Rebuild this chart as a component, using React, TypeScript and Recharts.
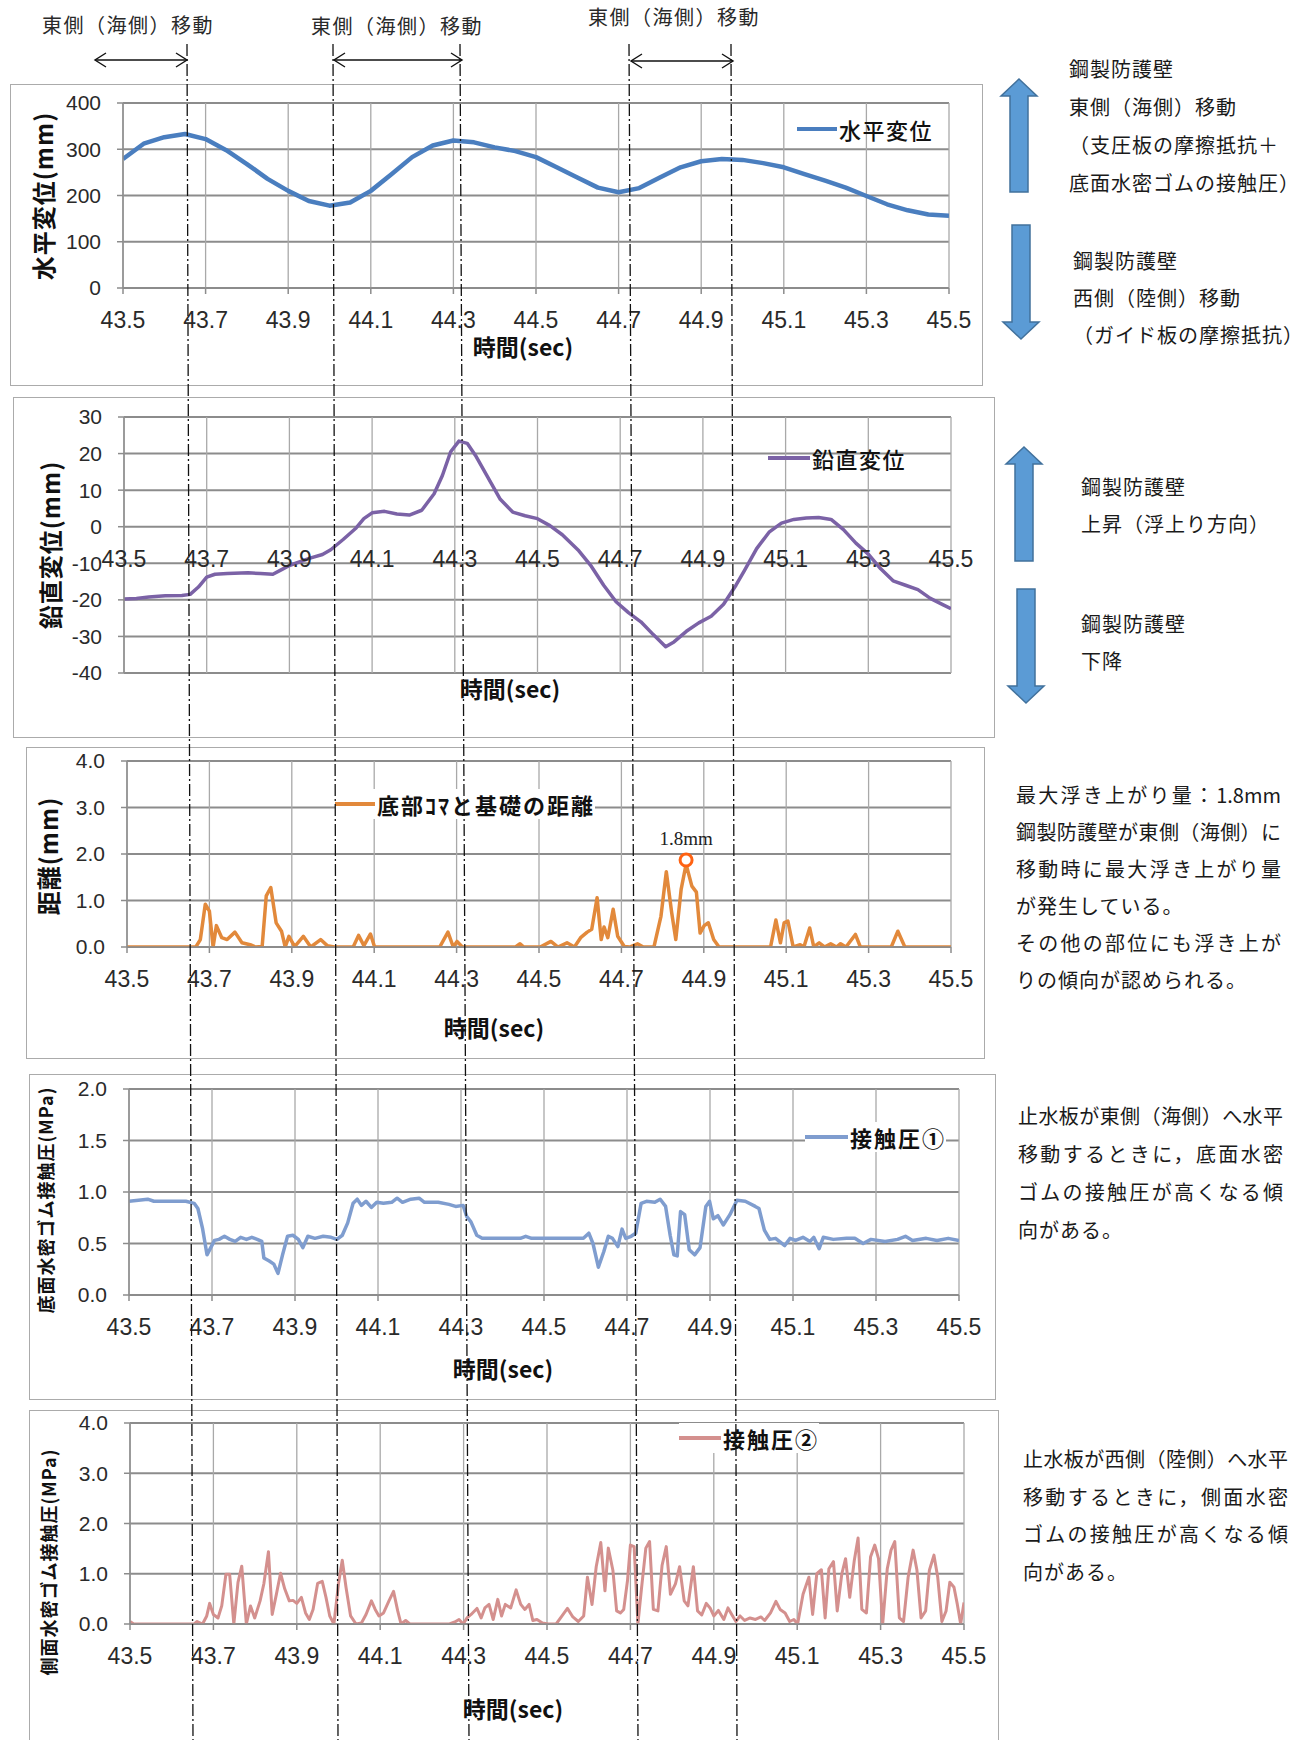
import React from 'react';
import { LineChart, Line, XAxis, YAxis, CartesianGrid, Legend, ReferenceDot } from 'recharts';

// ---------- data ----------
const X_TICKS = [43.5, 43.7, 43.9, 44.1, 44.3, 44.5, 44.7, 44.9, 45.1, 45.3, 45.5];

const horizTime = [43.5, 43.55, 43.6, 43.65, 43.7, 43.75, 43.8, 43.85, 43.9, 43.95, 44.0, 44.05, 44.1, 44.15, 44.2, 44.25, 44.3, 44.35, 44.4, 44.45, 44.5, 44.55, 44.6, 44.65, 44.7, 44.75, 44.8, 44.85, 44.9, 44.95, 45.0, 45.05, 45.1, 45.15, 45.2, 45.25, 45.3, 45.35, 45.4, 45.45, 45.5];
const horizValue = [279, 312, 326, 333, 322, 298, 268, 236, 210, 188, 178, 185, 210, 246, 283, 308, 319, 315, 304, 296, 283, 261, 239, 217, 207, 216, 239, 261, 274, 279, 277, 270, 261, 246, 232, 217, 199, 181, 168, 159, 156];

const vertTime = [43.5, 43.53, 43.56, 43.6, 43.64, 43.66, 43.68, 43.7, 43.72, 43.75, 43.8, 43.83, 43.86, 43.88, 43.9, 43.95, 43.98, 44.0, 44.03, 44.06, 44.08, 44.1, 44.13, 44.16, 44.19, 44.22, 44.25, 44.27, 44.29, 44.31, 44.33, 44.35, 44.38, 44.41, 44.44, 44.47, 44.5, 44.53, 44.56, 44.6, 44.63, 44.66, 44.69, 44.72, 44.75, 44.78, 44.81, 44.83, 44.86, 44.89, 44.92, 44.95, 44.98, 45.0, 45.03, 45.06, 45.09, 45.12, 45.15, 45.18, 45.21, 45.24, 45.27, 45.3, 45.33, 45.36, 45.39, 45.42, 45.45, 45.48, 45.5];
const vertValue = [-19.8, -19.6, -19.2, -18.9, -18.8, -18.5, -16.5, -13.8, -13.0, -12.8, -12.6, -12.8, -13.0, -11.8, -10.6, -8.6, -7.6, -6.3, -3.5, -0.5, 2.2, 3.8, 4.2, 3.5, 3.2, 4.5, 9, 14, 20.5, 23.4, 22.8, 19.5, 13.5, 7.5, 4, 3, 2.2, 0.3, -2.2, -6.6, -10.8, -16, -20.5, -23.5, -26, -29.5, -32.8, -31.5, -28.6, -26.3, -24.5, -21.2, -16, -12.1, -6, -1.5, 1, 2, 2.4, 2.5, 2, -0.8, -4.5, -7.5, -11.5, -14.8, -16, -17.2, -19.6, -21.3, -22.4];

const gapTime = [43.5, 43.667, 43.678, 43.69, 43.7, 43.709, 43.717, 43.73, 43.743, 43.762, 43.779, 43.799, 43.812, 43.828, 43.838, 43.849, 43.862, 43.875, 43.884, 43.893, 43.907, 43.928, 43.946, 43.97, 43.986, 44.003, 44.049, 44.062, 44.075, 44.091, 44.101, 44.259, 44.279, 44.292, 44.301, 44.314, 44.443, 44.454, 44.463, 44.503, 44.529, 44.546, 44.568, 44.586, 44.601, 44.617, 44.628, 44.641, 44.651, 44.658, 44.667, 44.68, 44.691, 44.707, 44.72, 44.739, 44.753, 44.779, 44.796, 44.809, 44.822, 44.832, 44.845, 44.857, 44.871, 44.882, 44.891, 44.901, 44.911, 44.924, 44.937, 45.062, 45.075, 45.086, 45.095, 45.104, 45.117, 45.134, 45.143, 45.157, 45.167, 45.18, 45.193, 45.208, 45.222, 45.232, 45.245, 45.268, 45.28, 45.355, 45.371, 45.388, 45.5];
const gapValue = [0, 0, 0.16, 0.92, 0.77, 0, 0.46, 0.2, 0.16, 0.32, 0.09, 0.05, 0, 0.01, 1.1, 1.28, 0.52, 0.34, 0, 0.23, 0.01, 0.23, 0, 0.16, 0.03, 0, 0, 0.25, 0.03, 0.28, 0, 0, 0.32, 0, 0.12, 0, 0, 0.07, 0, 0, 0.12, 0, 0.09, 0, 0.2, 0.32, 0.38, 1.06, 0.16, 0.43, 0.2, 0.81, 0.23, 0.01, 0, 0.07, 0, 0, 0.66, 1.62, 0.74, 0.16, 1.24, 1.78, 1.31, 1.18, 0.3, 0.46, 0.52, 0.16, 0, 0, 0.58, 0.09, 0.52, 0.56, 0, 0.05, 0, 0.41, 0, 0.09, 0, 0.07, 0, 0.07, 0, 0.27, 0, 0, 0.34, 0, 0];
const gapMaxTime = 44.857;
const gapMaxMarker = 1.87;

const bottomTime = [43.5, 43.545, 43.56, 43.637, 43.657, 43.666, 43.677, 43.688, 43.697, 43.706, 43.717, 43.73, 43.743, 43.756, 43.769, 43.783, 43.796, 43.809, 43.82, 43.825, 43.838, 43.849, 43.859, 43.87, 43.882, 43.895, 43.908, 43.919, 43.931, 43.948, 43.968, 43.987, 44.001, 44.014, 44.027, 44.04, 44.05, 44.06, 44.071, 44.084, 44.097, 44.113, 44.133, 44.146, 44.159, 44.179, 44.199, 44.212, 44.245, 44.271, 44.287, 44.305, 44.314, 44.324, 44.338, 44.351, 44.443, 44.456, 44.47, 44.595, 44.608, 44.618, 44.631, 44.644, 44.655, 44.665, 44.678, 44.688, 44.697, 44.71, 44.721, 44.734, 44.747, 44.767, 44.78, 44.793, 44.804, 44.813, 44.821, 44.829, 44.839, 44.85, 44.863, 44.876, 44.89, 44.899, 44.908, 44.919, 44.932, 44.948, 44.965, 44.985, 45.009, 45.018, 45.031, 45.044, 45.058, 45.08, 45.093, 45.106, 45.124, 45.141, 45.15, 45.163, 45.173, 45.197, 45.229, 45.249, 45.269, 45.288, 45.322, 45.352, 45.371, 45.388, 45.421, 45.447, 45.474, 45.5];
const bottomValue = [0.91, 0.93, 0.91, 0.91, 0.89, 0.84, 0.65, 0.39, 0.46, 0.53, 0.54, 0.57, 0.54, 0.52, 0.56, 0.54, 0.56, 0.54, 0.52, 0.36, 0.33, 0.3, 0.21, 0.39, 0.57, 0.58, 0.54, 0.46, 0.57, 0.55, 0.57, 0.56, 0.54, 0.58, 0.7, 0.89, 0.93, 0.87, 0.91, 0.85, 0.9, 0.89, 0.9, 0.94, 0.9, 0.93, 0.94, 0.9, 0.9, 0.88, 0.86, 0.87, 0.76, 0.71, 0.58, 0.55, 0.55, 0.57, 0.55, 0.55, 0.6, 0.5, 0.27, 0.42, 0.57, 0.55, 0.47, 0.64, 0.55, 0.57, 0.6, 0.89, 0.91, 0.9, 0.93, 0.86, 0.58, 0.39, 0.38, 0.81, 0.78, 0.44, 0.39, 0.46, 0.86, 0.91, 0.74, 0.77, 0.68, 0.78, 0.92, 0.91, 0.86, 0.84, 0.63, 0.54, 0.55, 0.48, 0.55, 0.53, 0.56, 0.52, 0.56, 0.45, 0.56, 0.54, 0.55, 0.55, 0.5, 0.54, 0.52, 0.54, 0.57, 0.53, 0.55, 0.53, 0.55, 0.53];

const sideTime = [43.5, 43.509, 43.654, 43.661, 43.674, 43.684, 43.691, 43.7, 43.711, 43.72, 43.73, 43.739, 43.749, 43.759, 43.768, 43.779, 43.789, 43.799, 43.812, 43.821, 43.832, 43.841, 43.851, 43.861, 43.871, 43.882, 43.891, 43.9, 43.911, 43.921, 43.93, 43.939, 43.95, 43.961, 43.97, 43.979, 43.989, 44.0, 44.009, 44.018, 44.029, 44.042, 44.055, 44.066, 44.079, 44.088, 44.097, 44.108, 44.121, 44.132, 44.142, 44.15, 44.161, 44.171, 44.266, 44.279, 44.289, 44.299, 44.308, 44.318, 44.332, 44.342, 44.351, 44.361, 44.371, 44.382, 44.391, 44.4, 44.413, 44.426, 44.437, 44.447, 44.457, 44.466, 44.476, 44.489, 44.503, 44.522, 44.536, 44.549, 44.562, 44.575, 44.588, 44.597, 44.608, 44.618, 44.629, 44.639, 44.647, 44.658, 44.667, 44.676, 44.684, 44.693, 44.7, 44.709, 44.718, 44.726, 44.737, 44.746, 44.755, 44.766, 44.776, 44.786, 44.796, 44.808, 44.818, 44.829, 44.838, 44.851, 44.861, 44.871, 44.882, 44.891, 44.9, 44.911, 44.924, 44.934, 44.943, 44.953, 44.963, 44.974, 44.987, 45.0, 45.013, 45.022, 45.036, 45.049, 45.059, 45.071, 45.082, 45.092, 45.101, 45.114, 45.128, 45.137, 45.147, 45.158, 45.167, 45.176, 45.187, 45.196, 45.207, 45.216, 45.226, 45.237, 45.246, 45.255, 45.266, 45.276, 45.286, 45.295, 45.305, 45.316, 45.325, 45.334, 45.345, 45.355, 45.366, 45.378, 45.387, 45.397, 45.408, 45.417, 45.428, 45.437, 45.447, 45.457, 45.466, 45.476, 45.484, 45.492, 45.5];
const sideValue = [0.05, 0, 0, 0.05, 0, 0.16, 0.41, 0.19, 0.12, 0.36, 0.99, 0.99, 0, 0.83, 1.15, 0, 0.36, 0.12, 0.46, 0.8, 1.44, 0.19, 0.59, 1.01, 0.7, 0.46, 0.47, 0.41, 0.53, 0.22, 0.09, 0.29, 0.81, 0.85, 0.53, 0.16, 0, 0.8, 1.27, 0.73, 0.16, 0, 0.02, 0.19, 0.46, 0.29, 0.16, 0.22, 0.46, 0.65, 0.26, 0, 0.07, 0, 0, 0.04, 0.09, 0, 0.12, 0.19, 0.31, 0.12, 0.32, 0.39, 0.09, 0.49, 0.16, 0.39, 0.32, 0.68, 0.39, 0.29, 0.39, 0.07, 0.09, 0.02, 0, 0, 0.16, 0.31, 0.14, 0.05, 0.16, 0.93, 0.39, 1.14, 1.62, 0.66, 1.51, 1.07, 0.26, 0.22, 0.29, 0.86, 1.57, 1.54, 0, 0.66, 1.51, 1.64, 0.29, 0.26, 1.17, 1.54, 0.59, 0.8, 1.14, 0.46, 0.36, 1.14, 0.26, 0.18, 0.41, 0.32, 0.16, 0.27, 0.09, 0.32, 0.19, 0.05, 0.16, 0.07, 0.12, 0.09, 0.14, 0.07, 0.22, 0.45, 0.29, 0.22, 0.05, 0.09, 0, 0.59, 0.93, 0.19, 1.0, 1.08, 0.12, 1.1, 1.24, 0.26, 1.0, 1.3, 0.53, 1.27, 1.71, 0.29, 0.22, 1.34, 1.57, 1.3, 0, 1.1, 1.47, 1.64, 0.12, 0.05, 0.93, 1.47, 1.08, 0.12, 0.26, 1.07, 1.37, 0.93, 0.05, 0.26, 0.83, 0.73, 0.39, 0, 0.43];

const zip = (t: number[], v: number[]) => t.map((x, i) => ({ t: x, v: v[i] }));

// ---------- styles ----------
const NUM_FONT = "'Liberation Sans', Arial, sans-serif";
const CJK_FONT = "'Noto Sans CJK JP', 'Noto Sans', sans-serif";
const H_GRID = '#8c8c8c';
const V_GRID = '#a9a9a9';
const TXT = '#2a2a2a';

type Box = { x: number; y: number; w: number; h: number };
type Plot = { l: number; t: number; r: number; b: number };

type PanelProps = {
  box: Box;
  plot: Plot;
  data: { t: number; v: number }[];
  color: string;
  strokeWidth: number;
  yDomain: [number, number];
  yTicks: number[];
  yDigits: number;
  legendName: string;
  legendLeft: number;
  legendCenterY: number;
  legendLineW: number;
  legendFontSize: number;
  legendSpacing: number;
  legendBold: boolean;
  legendBg: boolean;
  xTitleCx: number;
  xTitleCy: number;
  yTitle: string;
  yTitleCx: number;
  yTitleCy: number;
  yTitleSize: number;
  zeroAxis?: boolean;
  extra?: React.ReactNode;
};

function Panel(p: PanelProps) {
  const { box, plot } = p;
  const top = plot.t - box.y;
  const right = box.x + box.w - plot.r;
  const yAxisW = plot.l - box.x;
  const xAxisH = box.y + box.h - plot.b;
  const plotH = plot.b - plot.t;
  const zeroY = top + (plotH * (p.yDomain[1] - 0)) / (p.yDomain[1] - p.yDomain[0]);

  const ZeroTick = (tp: any) => (
    <text
      x={tp.x}
      y={zeroY + 32}
      textAnchor="middle"
      dominantBaseline="central"
      fontSize={23}
      fontFamily={NUM_FONT}
      fill={TXT}
    >
      {Number(tp.payload.value).toFixed(1)}
    </text>
  );

  const legendContent = () => (
    <div
      style={{
        display: 'flex',
        alignItems: 'center',
        background: p.legendBg ? '#ffffff' : 'transparent',
        height: 30,
        whiteSpace: 'nowrap',
      }}
    >
      <span style={{ display: 'inline-block', width: p.legendLineW, height: 4, background: p.color }} />
      <span
        style={{
          fontFamily: CJK_FONT,
          fontSize: p.legendFontSize,
          fontWeight: p.legendBold ? 700 : 500,
          letterSpacing: p.legendSpacing,
          color: '#111',
          marginLeft: 2,
          lineHeight: '30px',
        }}
      >
        {p.legendName}
      </span>
    </div>
  );

  return (
    <>
      <div
        style={{
          position: 'absolute',
          left: box.x,
          top: box.y,
          width: box.w,
          height: box.h,
          border: '1.5px solid #ababab',
          boxSizing: 'border-box',
          background: '#fff',
        }}
      />
      <div style={{ position: 'absolute', left: box.x, top: box.y, width: box.w, height: box.h }}>
        <LineChart width={box.w} height={box.h} data={p.data} margin={{ top, right, left: 0, bottom: 0 }}>
          <CartesianGrid vertical={false} stroke={H_GRID} strokeWidth={2} />
          <CartesianGrid horizontal={false} stroke={V_GRID} strokeWidth={1.3} />
          {p.zeroAxis ? (
            <XAxis
              dataKey="t"
              type="number"
              domain={[43.5, 45.5]}
              ticks={X_TICKS}
              interval={0}
              allowDataOverflow
              height={xAxisH}
              axisLine={false}
              tickLine={false}
              tick={ZeroTick}
            />
          ) : (
            <XAxis
              dataKey="t"
              type="number"
              domain={[43.5, 45.5]}
              ticks={X_TICKS}
              interval={0}
              allowDataOverflow
              height={xAxisH}
              stroke={H_GRID}
              strokeWidth={1.5}
              tickSize={6}
              tickMargin={18}
              tickFormatter={(v: number) => v.toFixed(1)}
              tick={{ fontSize: 23, fill: TXT, fontFamily: NUM_FONT }}
            />
          )}
          <YAxis
            type="number"
            domain={p.yDomain}
            ticks={p.yTicks}
            interval={0}
            allowDataOverflow
            width={yAxisW}
            stroke={H_GRID}
            strokeWidth={1.5}
            tickSize={6}
            tickMargin={16}
            tickFormatter={(v: number) => v.toFixed(p.yDigits)}
            tick={{ fontSize: 21, fill: TXT, fontFamily: NUM_FONT }}
          />
          <Line
            type="linear"
            dataKey="v"
            stroke={p.color}
            strokeWidth={p.strokeWidth}
            dot={false}
            activeDot={false}
            strokeLinejoin="round"
            isAnimationActive={false}
          />
          {p.extra}
          <Legend
            layout="horizontal"
            verticalAlign="middle"
            align="center"
            wrapperStyle={{ left: p.legendLeft, top: p.legendCenterY - 15, width: 'auto', height: 30 }}
            content={legendContent}
          />
        </LineChart>
      </div>
      <div
        style={{
          position: 'absolute',
          left: p.xTitleCx,
          top: p.xTitleCy,
          transform: 'translate(-50%, -50%)',
          fontFamily: CJK_FONT,
          fontWeight: 700,
          fontSize: 23,
          color: '#111',
          whiteSpace: 'nowrap',
          lineHeight: 1,
        }}
      >
        時間(sec)
      </div>
      <div
        style={{
          position: 'absolute',
          left: p.yTitleCx,
          top: p.yTitleCy,
          transform: 'translate(-50%, -50%) rotate(-90deg)',
          fontFamily: CJK_FONT,
          fontWeight: 700,
          fontSize: p.yTitleSize,
          letterSpacing: 1,
          color: '#111',
          whiteSpace: 'nowrap',
          lineHeight: 1,
        }}
      >
        {p.yTitle}
      </div>
    </>
  );
}

// ---------- annotation layer ----------
const dashLines: [number, number][] = [
  [187, 193],
  [333, 338],
  [460, 469],
  [629, 638],
  [731, 737],
];
const moveArrows: [number, number, number][] = [
  [95, 187, 60],
  [334, 462, 60],
  [631, 733, 61],
];

function BlockArrow({ cx, y1, y2, up }: { cx: number; y1: number; y2: number; up: boolean }) {
  const hw = 18;
  const sw = 9;
  const hh = 17;
  const pts = up
    ? [
        [cx, y1],
        [cx + hw, y1 + hh],
        [cx + sw, y1 + hh],
        [cx + sw, y2],
        [cx - sw, y2],
        [cx - sw, y1 + hh],
        [cx - hw, y1 + hh],
      ]
    : [
        [cx - sw, y1],
        [cx + sw, y1],
        [cx + sw, y2 - hh],
        [cx + hw, y2 - hh],
        [cx, y2],
        [cx - hw, y2 - hh],
        [cx - sw, y2 - hh],
      ];
  return <polygon points={pts.map((q) => q.join(',')).join(' ')} fill="#5b9bd5" stroke="#41719c" strokeWidth={1.5} />;
}

const textStyle: React.CSSProperties = {
  position: 'absolute',
  fontFamily: CJK_FONT,
  fontSize: 20,
  color: '#1a1a1a',
  whiteSpace: 'nowrap',
  letterSpacing: 1,
};

function TextBlock({ left, top, lh, lines, justifyWidth }: { left: number; top: number; lh: number; lines: string[]; justifyWidth?: number }) {
  return (
    <>
      {lines.map((s, i) => {
        const full = justifyWidth && i < lines.length - 1 && s.length >= 12;
        return (
          <div
            key={i}
            style={{
              ...textStyle,
              left,
              top: top + i * lh,
              lineHeight: `${lh}px`,
              width: full ? justifyWidth : undefined,
              textAlign: full ? 'justify' : 'left',
              textAlignLast: full ? 'justify' : 'auto',
              letterSpacing: full ? 0 : 1,
            } as React.CSSProperties}
          >
            {s}
          </div>
        );
      })}
    </>
  );
}

export default function App() {
  const horizData = zip(horizTime, horizValue);
  const vertData = zip(vertTime, vertValue);
  const gapData = zip(gapTime, gapValue);
  const bottomData = zip(bottomTime, bottomValue);
  const sideData = zip(sideTime, sideValue);

  return (
    <div
      style={{
        position: 'absolute',
        left: 0,
        top: 0,
        width: 1310,
        height: 1740,
        overflow: 'hidden',
        background: '#ffffff',
      }}
    >
      {/* top labels */}
      {[
        [42, 15],
        [311, 16],
        [588, 7],
      ].map(([l, t], i) => (
        <div key={i} style={{ ...textStyle, left: l, top: t, lineHeight: '20px', letterSpacing: 1.5, color: '#2a2a2a' }}>
          東側（海側）移動
        </div>
      ))}

      <Panel
        box={{ x: 10, y: 84, w: 973, h: 302 }}
        plot={{ l: 123, t: 103, r: 949, b: 288 }}
        data={horizData}
        color="#4a7ebf"
        strokeWidth={4.5}
        yDomain={[0, 400]}
        yTicks={[0, 100, 200, 300, 400]}
        yDigits={0}
        legendName="水平変位"
        legendLeft={787}
        legendCenterY={45}
        legendLineW={40}
        legendFontSize={22}
        legendSpacing={1.5}
        legendBold={false}
        legendBg={false}
        xTitleCx={523}
        xTitleCy={346}
        yTitle="水平変位(mm)"
        yTitleCx={43}
        yTitleCy={196}
        yTitleSize={24}
      />

      <Panel
        box={{ x: 13, y: 397, w: 982, h: 341 }}
        plot={{ l: 124, t: 417, r: 951, b: 673 }}
        data={vertData}
        color="#7b62a6"
        strokeWidth={3.5}
        yDomain={[-40, 30]}
        yTicks={[-40, -30, -20, -10, 0, 10, 20, 30]}
        yDigits={0}
        legendName="鉛直変位"
        legendLeft={755}
        legendCenterY={61}
        legendLineW={42}
        legendFontSize={22}
        legendSpacing={1.5}
        legendBold={false}
        legendBg={false}
        xTitleCx={510}
        xTitleCy={688}
        yTitle="鉛直変位(mm)"
        yTitleCx={50}
        yTitleCy={545}
        yTitleSize={24}
        zeroAxis
      />

      <Panel
        box={{ x: 26, y: 747, w: 959, h: 312 }}
        plot={{ l: 127, t: 761, r: 951, b: 947 }}
        data={gapData}
        color="#e2893b"
        strokeWidth={3.5}
        yDomain={[0, 4]}
        yTicks={[0, 1, 2, 3, 4]}
        yDigits={1}
        legendName="底部ｺﾏと基礎の距離"
        legendLeft={309}
        legendCenterY={57}
        legendLineW={40}
        legendFontSize={22}
        legendSpacing={2}
        legendBold
        legendBg
        xTitleCx={494}
        xTitleCy={1027}
        yTitle="距離(mm)"
        yTitleCx={48}
        yTitleCy={856}
        yTitleSize={24}
        extra={
          <ReferenceDot
            x={gapMaxTime}
            y={gapMaxMarker}
            r={6}
            fill="#ffffff"
            stroke="#ff6212"
            strokeWidth={3}
            isFront
            label={{
              value: '1.8mm',
              position: 'top',
              offset: 9,
              fill: '#222',
              fontSize: 19,
              fontFamily: "'Liberation Serif', 'DejaVu Serif', serif",
            }}
          />
        }
      />

      <Panel
        box={{ x: 29, y: 1074, w: 967, h: 326 }}
        plot={{ l: 129, t: 1089, r: 959, b: 1295 }}
        data={bottomData}
        color="#7f9dcf"
        strokeWidth={3.5}
        yDomain={[0, 2]}
        yTicks={[0, 0.5, 1, 1.5, 2]}
        yDigits={1}
        legendName="接触圧①"
        legendLeft={776}
        legendCenterY={63}
        legendLineW={43}
        legendFontSize={22}
        legendSpacing={2}
        legendBold
        legendBg
        xTitleCx={503}
        xTitleCy={1368}
        yTitle="底面水密ゴム接触圧(MPa)"
        yTitleCx={45}
        yTitleCy={1200}
        yTitleSize={18}
      />

      <Panel
        box={{ x: 29, y: 1410, w: 970, h: 345 }}
        plot={{ l: 130, t: 1423, r: 964, b: 1624 }}
        data={sideData}
        color="#d4908e"
        strokeWidth={3}
        yDomain={[0, 4]}
        yTicks={[0, 1, 2, 3, 4]}
        yDigits={1}
        legendName="接触圧②"
        legendLeft={650}
        legendCenterY={28}
        legendLineW={42}
        legendFontSize={22}
        legendSpacing={2}
        legendBold
        legendBg
        xTitleCx={513}
        xTitleCy={1708}
        yTitle="側面水密ゴム接触圧(MPa)"
        yTitleCx={48}
        yTitleCy={1562}
        yTitleSize={18}
      />

      {/* annotation overlay */}
      <svg
        width={1310}
        height={1740}
        style={{ position: 'absolute', left: 0, top: 0, pointerEvents: 'none' }}
      >
        {dashLines.map(([xt, xb], i) => (
          <line key={i} x1={xt} y1={44} x2={xb} y2={1740} stroke="#111" strokeWidth={1.3} strokeDasharray="12 3 2 3" />
        ))}
        {moveArrows.map(([a, b, y], i) => (
          <g key={i} stroke="#111" strokeWidth={1.4} fill="none">
            <line x1={a} y1={y} x2={b} y2={y} />
            <polyline points={`${a + 11},${y - 7} ${a},${y} ${a + 11},${y + 7}`} />
            <polyline points={`${b - 11},${y - 7} ${b},${y} ${b - 11},${y + 7}`} />
          </g>
        ))}
        <BlockArrow cx={1019} y1={79} y2={192} up />
        <BlockArrow cx={1021} y1={225} y2={339} up={false} />
        <BlockArrow cx={1024} y1={447} y2={561} up />
        <BlockArrow cx={1026} y1={589} y2={703} up={false} />
      </svg>

      {/* right-hand notes */}
      <TextBlock left={1069} top={50} lh={38} lines={['鋼製防護壁', '東側（海側）移動', '（支圧板の摩擦抵抗＋', '底面水密ゴムの接触圧）']} />
      <TextBlock left={1073} top={242} lh={37} lines={['鋼製防護壁', '西側（陸側）移動', '（ガイド板の摩擦抵抗）']} />
      <TextBlock left={1081} top={468} lh={37} lines={['鋼製防護壁', '上昇（浮上り方向）']} />
      <TextBlock left={1081} top={605} lh={37} lines={['鋼製防護壁', '下降']} />
      <TextBlock
        left={1016}
        top={776}
        lh={37}
        justifyWidth={265}
        lines={['最大浮き上がり量：1.8mm', '鋼製防護壁が東側（海側）に', '移動時に最大浮き上がり量', 'が発生している。', 'その他の部位にも浮き上が', 'りの傾向が認められる。']}
      />
      <TextBlock
        left={1018}
        top={1097}
        lh={38}
        justifyWidth={265}
        lines={['止水板が東側（海側）へ水平', '移動するときに，底面水密', 'ゴムの接触圧が高くなる傾', '向がある。']}
      />
      <TextBlock
        left={1023}
        top={1440}
        lh={37.5}
        justifyWidth={265}
        lines={['止水板が西側（陸側）へ水平', '移動するときに，側面水密', 'ゴムの接触圧が高くなる傾', '向がある。']}
      />
    </div>
  );
}
